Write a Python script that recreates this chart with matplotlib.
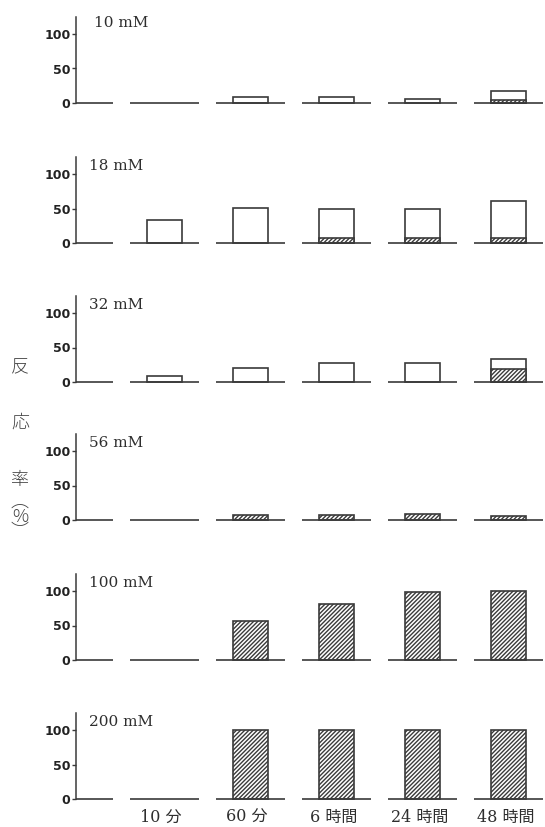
import matplotlib
matplotlib.use("Agg")
import matplotlib.pyplot as plt

# ---- data ----
concentrations = ["10 mM", "18 mM", "32 mM", "56 mM", "100 mM", "200 mM"]
time_labels = ["", "10 分", "60 分", "6 時間", "24 時間", "48 時間"]

# total reaction rate (%) – open bar height
total_10 = [0, 0, 8, 8, 6, 17]
total_18 = [0, 33, 51, 50, 49, 61]
total_32 = [0, 8, 21, 27, 27, 33]
total_56 = [0, 0, 7, 7, 8, 6]
total_100 = [0, 0, 57, 81, 98, 100]
total_200 = [0, 0, 100, 100, 100, 100]

# hatched portion (%)
hatch_10 = [0, 0, 0, 0, 0, 4]
hatch_18 = [0, 0, 0, 7, 7, 7]
hatch_32 = [0, 0, 0, 0, 0, 19]
hatch_56 = [0, 0, 7, 7, 8, 6]
hatch_100 = [0, 0, 57, 81, 98, 100]
hatch_200 = [0, 0, 100, 100, 100, 100]

totals = [total_10, total_18, total_32, total_56, total_100, total_200]
hatches = [hatch_10, hatch_18, hatch_32, hatch_56, hatch_100, hatch_200]

yticks = [0, 50, 100]

# ---- style ----
INK = "#3a3a3a"
TXT = "#2e2e2e"
plt.rcParams["hatch.linewidth"] = 1.0
plt.rcParams["hatch.color"] = INK

W, H = 545, 827
fig = plt.figure(figsize=(W / 100, H / 100), dpi=100)
fig.patch.set_facecolor("white")

baselines_px = [103, 243, 382, 520, 660, 799]
left_px = 76
px_per_unit = 69 / 100.0
ytop = 125
x_left, x_right = -0.03, 5.42
seg_half = 0.40
bar_w = 0.41

serif_cjk = ["DejaVu Serif", "Noto Sans CJK JP"]

for k, (conc, tot, hat) in enumerate(zip(concentrations, totals, hatches)):
    bottom = 1 - baselines_px[k] / H
    height = ytop * px_per_unit / H
    ax = fig.add_axes([left_px / W, bottom, 1 - left_px / W, height])
    ax.set_xlim(x_left, x_right)
    ax.set_ylim(0, ytop)
    ax.patch.set_alpha(0)
    for s in ["top", "right", "bottom"]:
        ax.spines[s].set_visible(False)
    ax.spines["left"].set_bounds(0, ytop)
    ax.spines["left"].set_color(INK)
    ax.spines["left"].set_linewidth(1.1)
    ax.set_xticks([])
    ax.set_yticks(yticks)
    ax.set_yticklabels([str(v) for v in yticks], fontsize=9, fontweight="bold",
                       color="#222222", family="DejaVu Sans")
    ax.tick_params(axis="y", direction="out", length=3, width=1.0, color=INK, pad=1.0)

    positions = list(range(len(time_labels)))
    # baseline segments
    for i in positions:
        x0 = max(i - seg_half, x_left)
        ax.hlines(0, x0, i + seg_half, color=INK, linewidth=1.2, clip_on=False, zorder=3)
    # bars
    for i, (t, h) in enumerate(zip(tot, hat)):
        if t > h:
            ax.bar(i, t, width=bar_w, facecolor="white", edgecolor=INK,
                   linewidth=1.2, zorder=2, clip_on=False)
        if h > 0:
            ax.bar(i, h, width=bar_w, facecolor="white", edgecolor=INK,
                   hatch="////////", linewidth=1.2, zorder=2.5, clip_on=False)

    ax.text(0.12 if k else 0.18, 112 if k else 116, conc, fontsize=11,
            family="DejaVu Serif", color=TXT, ha="left", va="center")

    if k == len(concentrations) - 1:
        for i, lab in enumerate(time_labels):
            if lab:
                ax.text(i - 0.04, -27, lab, fontsize=11.5, family=serif_cjk,
                        color=TXT, ha="center", va="center", clip_on=False)

# vertical y label
ylab_items = [("反", 367), ("応", 423), ("率", 480), ("︵\n%\n︶", 517)]
for ch, ypx in ylab_items:
    fig.text(20 / W, 1 - ypx / H, ch, fontsize=13, family=["Noto Sans CJK JP", "DejaVu Sans"],
             color="#444444", ha="center", va="center", fontweight="light",
             linespacing=0.8, multialignment="center")

fig.savefig("out.png", dpi=100, facecolor="white")
